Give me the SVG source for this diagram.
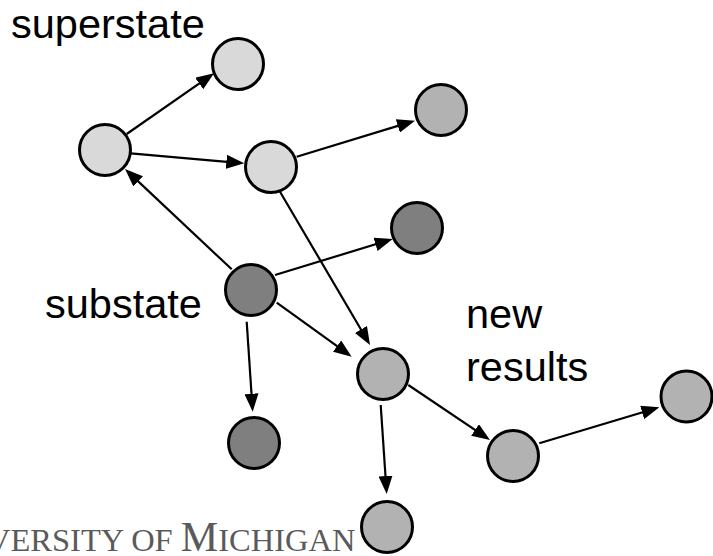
<svg xmlns="http://www.w3.org/2000/svg" width="713" height="556" viewBox="0 0 713 556">
  <style>
    .node { stroke: #000; stroke-width: 3; }
    .light { fill: #d9d9d9; }
    .mid { fill: #b2b2b2; }
    .dark { fill: #7f7f7f; }
    .edge { stroke: #000; stroke-width: 2.2; fill: none; marker-end: url(#arrow); }
    .label { font-family: "Liberation Sans", Arial, sans-serif; font-size: 41.5px; fill: #000; }
    .logo { font-family: "Liberation Serif", "Times New Roman", serif; fill: #5a5a5a; }
  </style>
  <defs>
    <marker id="arrow" markerUnits="userSpaceOnUse" markerWidth="18" markerHeight="14" refX="12" refY="7" orient="auto">
      <path d="M0,0 L18,7 L0,14 z" fill="#000"/>
    </marker>
  </defs>

  <rect width="713" height="556" fill="#fff"/>

  <!-- wordmark at bottom-left -->
  <text class="logo" x="-13" y="551"><tspan font-size="32.5">VERSITY OF </tspan><tspan font-size="42">M</tspan><tspan font-size="32.5">ICHIGAN</tspan></text>

  <!-- labels -->
  <text class="label" x="11" y="38">superstate</text>
  <text class="label" x="45" y="318">substate</text>
  <text class="label" x="466" y="328">new</text>
  <text class="label" x="466" y="381">results</text>

  <!-- connectors -->
  <g id="edges">
    <line class="edge" x1="126.7" y1="134" x2="209.1" y2="76.7"/>
    <line class="edge" x1="130.7" y1="153.3" x2="238.3" y2="162.8"/>
    <line class="edge" x1="296.7" y1="156.7" x2="409.3" y2="122.4"/>
    <line class="edge" x1="231.7" y1="269.3" x2="129.4" y2="173.1"/>
    <line class="edge" x1="275" y1="275" x2="387.0" y2="240.8"/>
    <line class="edge" x1="276.7" y1="302.7" x2="346.8" y2="353.2"/>
    <line class="edge" x1="280" y1="191.7" x2="367.0" y2="339.8"/>
    <line class="edge" x1="246.7" y1="321.7" x2="252.3" y2="405.7"/>
    <line class="edge" x1="408.3" y1="385" x2="485.0" y2="436.7"/>
    <line class="edge" x1="380.7" y1="405" x2="386.3" y2="488.0"/>
    <line class="edge" x1="539.3" y1="443.3" x2="653.6" y2="409.0"/>
  </g>

  <!-- states -->
  <g id="node-a"><circle class="node light" cx="238" cy="64" r="25.5"/></g>
  <g id="node-b"><circle class="node light" cx="105" cy="150" r="25.5"/></g>
  <g id="node-c"><circle class="node light" cx="271" cy="167" r="25.5"/></g>
  <g id="node-d"><circle class="node mid" cx="441" cy="110" r="25.5"/></g>
  <g id="node-e"><circle class="node dark" cx="417" cy="228" r="25.5"/></g>
  <g id="node-f"><circle class="node dark" cx="251" cy="290" r="25.5"/></g>
  <g id="node-g"><circle class="node mid" cx="383" cy="374" r="25.5"/></g>
  <g id="node-h"><circle class="node dark" cx="254" cy="443" r="25.5"/></g>
  <g id="node-i"><circle class="node mid" cx="513" cy="456" r="25.5"/></g>
  <g id="node-j"><circle class="node mid" cx="686.5" cy="396.5" r="25.5"/></g>
  <g id="node-k"><circle class="node mid" cx="387" cy="527" r="25.5"/></g>
</svg>
